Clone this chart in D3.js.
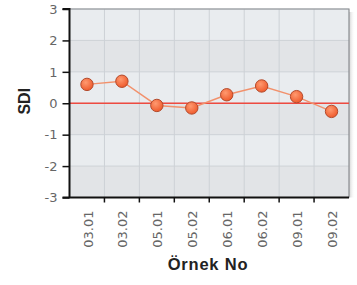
<!DOCTYPE html>
<html><head><meta charset="utf-8">
<script src="https://cdn.jsdelivr.net/npm/d3@7"></script>
<style>body{margin:0;background:#fff;}svg{display:block;}</style>
</head><body>
<script>
const categories = ["03.01","03.02","05.01","05.02","06.01","06.02","09.01","09.02"];
const sdiValues = [0.6, 0.7, -0.07, -0.15, 0.27, 0.55, 0.21, -0.26];
const yTicks = [-3,-2,-1,0,1,2,3];
const yLabel = "SDI";
const xLabel = "Örnek No";

const W = 357, H = 285;
const m = {left: 69.5, right: 8, top: 9, bottom: 87.5};
const svg = d3.select("body").append("svg").attr("width", W).attr("height", H);

const x = d3.scaleBand().domain(categories).range([m.left, W - m.right]);
const y = d3.scaleLinear().domain([-3, 3]).range([H - m.bottom, m.top]);

const tickFont = "DejaVu Sans, Verdana, sans-serif";
const titleFont = "Liberation Sans, Arial, sans-serif";

const defs = svg.append("defs");
const grad = defs.append("radialGradient").attr("id","pg").attr("cx","40%").attr("cy","35%").attr("r","65%");
grad.append("stop").attr("offset","0%").attr("stop-color","#ff9a70");
grad.append("stop").attr("offset","100%").attr("stop-color","#ef5b2d");
const sh = defs.append("linearGradient").attr("id","shadow").attr("x1","0").attr("x2","1");
sh.append("stop").attr("offset","0%").attr("stop-color","#c4c4c4").attr("stop-opacity",0.8);
sh.append("stop").attr("offset","100%").attr("stop-color","#fff").attr("stop-opacity",0);

// shadow at right
svg.append("rect").attr("x", W - m.right).attr("y", m.top + 3).attr("width", 6)
  .attr("height", y(-3) - m.top - 3).attr("fill","url(#shadow)");

// bands
const bands = d3.range(-3, 3);
svg.append("g").selectAll("rect").data(bands).join("rect")
  .attr("x", m.left).attr("width", W - m.right - m.left)
  .attr("y", d => y(d + 1)).attr("height", d => y(d) - y(d + 1))
  .attr("fill", d => ((d % 2) + 2) % 2 === 0 ? "#e9ecef" : "#e2e4e7");

// grid
const grid = svg.append("g").attr("stroke", "#cdd1d6").attr("stroke-width", 1);
grid.selectAll("line.h").data(yTicks).join("line").attr("class","h")
  .attr("x1", m.left).attr("x2", W - m.right)
  .attr("y1", d => y(d)).attr("y2", d => y(d));
grid.selectAll("line.v").data(categories.slice(1)).join("line").attr("class","v")
  .attr("x1", d => x(d)).attr("x2", d => x(d))
  .attr("y1", m.top).attr("y2", y(-3));

// border top/right
svg.append("path").attr("d", `M${m.left},${m.top}H${W - m.right}V${y(-3)}`)
  .attr("fill","none").attr("stroke","#8a8d91").attr("stroke-width",1.2);

// zero line
svg.append("line").attr("x1", m.left).attr("x2", W - m.right)
  .attr("y1", y(0)).attr("y2", y(0)).attr("stroke", "#ee4a40").attr("stroke-width", 1.6);

// y axis
const yAxis = svg.append("g").attr("transform", `translate(${m.left},0)`)
  .call(d3.axisLeft(y).tickValues(yTicks).tickSize(7).tickPadding(5).tickFormat(d => String(d)));
yAxis.select(".domain").attr("stroke","#111").attr("stroke-width",2).attr("d", `M-7,${m.top}H0V${y(-3)}`);
yAxis.selectAll(".tick line").attr("stroke","#111").attr("stroke-width",1.5);
yAxis.selectAll("text").attr("fill","#666").style("font-family",tickFont).style("font-size","13px");

// x axis
const xAxis = svg.append("g").attr("transform", `translate(0,${y(-3)})`)
  .call(d3.axisBottom(x).tickSize(0).tickPadding(0));
xAxis.select(".domain").attr("stroke","#111").attr("stroke-width",2).attr("d", `M${m.left - 7},0H${W - m.right}`);
xAxis.selectAll(".tick line").remove();
svg.append("g").attr("stroke","#111").attr("stroke-width",1.5).selectAll("line")
  .data(categories.slice(1)).join("line")
  .attr("x1", d => x(d)).attr("x2", d => x(d)).attr("y1", y(-3)).attr("y2", y(-3) + 5);
xAxis.selectAll(".tick text")
  .attr("transform", "rotate(-90)").attr("text-anchor", "end")
  .attr("x", -13).attr("y", 1).attr("dy", "0.35em")
  .attr("fill","#666").style("font-family",tickFont).style("font-size","13px");

// line
const pts = categories.map((c, i) => ({c, v: sdiValues[i]}));
svg.append("path").datum(pts)
  .attr("fill","none").attr("stroke","#f2916c").attr("stroke-width",1.4)
  .attr("d", d3.line().x(d => x(d.c) + x.bandwidth() / 2).y(d => y(d.v)));

svg.append("g").selectAll("circle").data(pts).join("circle")
  .attr("cx", d => x(d.c) + x.bandwidth() / 2).attr("cy", d => y(d.v)).attr("r", 6.2)
  .attr("fill","url(#pg)").attr("stroke","#b34a2c").attr("stroke-width",1);

// labels
svg.append("text").attr("transform", `translate(30,${y(0) - 2}) rotate(-90)`)
  .attr("text-anchor","middle").attr("fill","#222")
  .style("font-family",titleFont).style("font-size","16px").style("font-weight","bold")
  .text(yLabel);
svg.append("text").attr("x", 208).attr("y", 270)
  .attr("text-anchor","middle").attr("fill","#222").attr("letter-spacing","0.8")
  .style("font-family",titleFont).style("font-size","16.5px").style("font-weight","bold")
  .text(xLabel);
</script>
</body></html>
